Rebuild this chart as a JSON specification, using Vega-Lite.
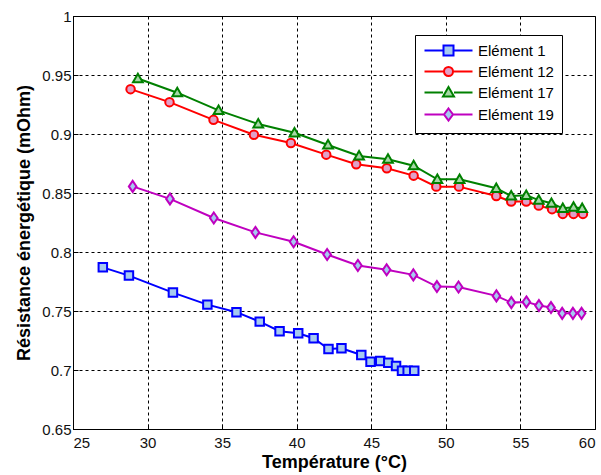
{
  "$schema": "https://vega.github.io/schema/vega-lite/v6.json",
  "width": 522,
  "height": 413,
  "autosize": {"type": "none"},
  "padding": {"left": 73, "top": 16, "right": 6, "bottom": 46},
  "background": "white",
  "config": {
    "view": {"stroke": "black", "strokeWidth": 1},
    "font": "Liberation Sans",
    "axis": {
      "domainColor": "black",
      "grid": true,
      "gridColor": "black",
      "gridDash": [3, 3],
      "gridOpacity": 1,
      "gridWidth": 1,
      "tickColor": "black",
      "tickSize": -5,
      "labelFont": "Liberation Sans",
      "labelFontSize": 15,
      "labelColor": "#111111",
      "titleFont": "Liberation Sans",
      "titleFontSize": 18,
      "titleFontWeight": "bold",
      "titleColor": "black"
    },
    "legend": {
      "orient": "none",
      "legendX": 342,
      "legendY": 19,
      "title": null,
      "fillColor": "white",
      "strokeColor": "black",
      "padding": 8,
      "symbolSize": 100,
      "symbolStrokeWidth": 2,
      "symbolOpacity": 1,
      "labelOffset": 40,
      "labelFont": "Liberation Sans",
      "labelFontSize": 15,
      "labelColor": "black",
      "rowPadding": 3
    }
  },
  "data": {
    "values": [
      {"s": "Elément 1", "t": 27.0, "r": 0.787},
      {"s": "Elément 1", "t": 28.75, "r": 0.780},
      {"s": "Elément 1", "t": 31.7, "r": 0.7656},
      {"s": "Elément 1", "t": 34.01, "r": 0.7554},
      {"s": "Elément 1", "t": 35.96, "r": 0.749},
      {"s": "Elément 1", "t": 37.52, "r": 0.741},
      {"s": "Elément 1", "t": 38.85, "r": 0.7329},
      {"s": "Elément 1", "t": 40.1, "r": 0.7312},
      {"s": "Elément 1", "t": 41.13, "r": 0.7269},
      {"s": "Elément 1", "t": 42.13, "r": 0.7178},
      {"s": "Elément 1", "t": 43.0, "r": 0.7184},
      {"s": "Elément 1", "t": 44.33, "r": 0.7127},
      {"s": "Elément 1", "t": 44.95, "r": 0.707},
      {"s": "Elément 1", "t": 45.6, "r": 0.7076},
      {"s": "Elément 1", "t": 46.14, "r": 0.7062},
      {"s": "Elément 1", "t": 46.66, "r": 0.7034},
      {"s": "Elément 1", "t": 47.06, "r": 0.6994},
      {"s": "Elément 1", "t": 47.44, "r": 0.6994},
      {"s": "Elément 1", "t": 47.88, "r": 0.6994},
      {"s": "Elément 12", "t": 28.86, "r": 0.938},
      {"s": "Elément 12", "t": 31.47, "r": 0.927},
      {"s": "Elément 12", "t": 34.42, "r": 0.912},
      {"s": "Elément 12", "t": 37.13, "r": 0.8994},
      {"s": "Elément 12", "t": 39.61, "r": 0.8924},
      {"s": "Elément 12", "t": 41.98, "r": 0.8825},
      {"s": "Elément 12", "t": 43.99, "r": 0.8743},
      {"s": "Elément 12", "t": 46.04, "r": 0.871},
      {"s": "Elément 12", "t": 47.84, "r": 0.8647},
      {"s": "Elément 12", "t": 49.36, "r": 0.8554},
      {"s": "Elément 12", "t": 50.88, "r": 0.8554},
      {"s": "Elément 12", "t": 53.38, "r": 0.8475},
      {"s": "Elément 12", "t": 54.38, "r": 0.8427},
      {"s": "Elément 12", "t": 55.39, "r": 0.8427},
      {"s": "Elément 12", "t": 56.23, "r": 0.8393},
      {"s": "Elément 12", "t": 57.12, "r": 0.8363},
      {"s": "Elément 12", "t": 57.84, "r": 0.8323},
      {"s": "Elément 12", "t": 58.56, "r": 0.8323},
      {"s": "Elément 12", "t": 59.19, "r": 0.8323},
      {"s": "Elément 17", "t": 29.35, "r": 0.947},
      {"s": "Elément 17", "t": 31.99, "r": 0.935},
      {"s": "Elément 17", "t": 34.76, "r": 0.920},
      {"s": "Elément 17", "t": 37.42, "r": 0.9085},
      {"s": "Elément 17", "t": 39.85, "r": 0.901},
      {"s": "Elément 17", "t": 42.1, "r": 0.8907},
      {"s": "Elément 17", "t": 44.18, "r": 0.8814},
      {"s": "Elément 17", "t": 46.12, "r": 0.8786},
      {"s": "Elément 17", "t": 47.84, "r": 0.8731},
      {"s": "Elément 17", "t": 49.43, "r": 0.8616},
      {"s": "Elément 17", "t": 50.92, "r": 0.8616},
      {"s": "Elément 17", "t": 53.38, "r": 0.854},
      {"s": "Elément 17", "t": 54.38, "r": 0.8475},
      {"s": "Elément 17", "t": 55.39, "r": 0.848},
      {"s": "Elément 17", "t": 56.23, "r": 0.844},
      {"s": "Elément 17", "t": 57.08, "r": 0.8413},
      {"s": "Elément 17", "t": 57.84, "r": 0.837},
      {"s": "Elément 17", "t": 58.56, "r": 0.838},
      {"s": "Elément 17", "t": 59.14, "r": 0.837},
      {"s": "Elément 19", "t": 29.0, "r": 0.8556},
      {"s": "Elément 19", "t": 31.5, "r": 0.845},
      {"s": "Elément 19", "t": 34.44, "r": 0.8288},
      {"s": "Elément 19", "t": 37.23, "r": 0.8166},
      {"s": "Elément 19", "t": 39.79, "r": 0.8087},
      {"s": "Elément 19", "t": 42.04, "r": 0.7979},
      {"s": "Elément 19", "t": 44.1, "r": 0.7886},
      {"s": "Elément 19", "t": 46.03, "r": 0.7849},
      {"s": "Elément 19", "t": 47.82, "r": 0.7806},
      {"s": "Elément 19", "t": 49.4, "r": 0.7707},
      {"s": "Elément 19", "t": 50.85, "r": 0.7703},
      {"s": "Elément 19", "t": 53.39, "r": 0.7628},
      {"s": "Elément 19", "t": 54.39, "r": 0.7571},
      {"s": "Elément 19", "t": 55.4, "r": 0.7577},
      {"s": "Elément 19", "t": 56.24, "r": 0.7546},
      {"s": "Elément 19", "t": 57.05, "r": 0.7529},
      {"s": "Elément 19", "t": 57.8, "r": 0.748},
      {"s": "Elément 19", "t": 58.52, "r": 0.748},
      {"s": "Elément 19", "t": 59.1, "r": 0.748}
    ]
  },
  "encoding": {
    "x": {
      "field": "t", "type": "quantitative",
      "title": "Température (°C)",
      "scale": {"domain": [25, 60], "nice": false, "zero": false},
      "axis": {"values": [25, 30, 35, 40, 45, 50, 55, 60], "labelPadding": 11, "titlePadding": 3}
    },
    "y": {
      "field": "r", "type": "quantitative",
      "title": "Résistance énergétique (mOhm)",
      "scale": {"domain": [0.65, 1], "nice": false, "zero": false},
      "axis": {"values": [0.65, 0.7, 0.75, 0.8, 0.85, 0.9, 0.95, 1], "format": ".2~f", "labelPadding": 7, "titlePadding": 8}
    },
    "stroke": {
      "field": "s", "type": "nominal",
      "scale": {"domain": ["Elément 1", "Elément 12", "Elément 17", "Elément 19"], "range": ["#0000FF", "#FF0000", "#008000", "#BF00BF"]}
    }
  },
  "layer": [
    {
      "mark": {"type": "line", "strokeWidth": 2}
    },
    {
      "transform": [{"filter": "datum.s === 'Elément 1'"}],
      "mark": {"type": "point", "shape": "square", "strokeWidth": 2, "opacity": 1, "fillOpacity": 1, "size": 72},
      "encoding": {
        "fill": {
          "field": "s", "type": "nominal",
          "scale": {"domain": ["Elément 1", "Elément 12", "Elément 17", "Elément 19"], "range": ["#A6CAF0", "#E0A0C8", "#A8D8A8", "#A6CAF0"]}
        }
      }
    },
    {
      "transform": [{"filter": "datum.s === 'Elément 12'"}],
      "mark": {"type": "point", "shape": "circle", "strokeWidth": 2, "opacity": 1, "fillOpacity": 1, "size": 72},
      "encoding": {"fill": {"field": "s", "type": "nominal"}}
    },
    {
      "transform": [{"filter": "datum.s === 'Elément 17'"}],
      "mark": {"type": "point", "shape": "M0,-1.15 L1.15,0.85 L-1.15,0.85 Z", "strokeWidth": 2, "opacity": 1, "fillOpacity": 1, "size": 72},
      "encoding": {"fill": {"field": "s", "type": "nominal"}}
    },
    {
      "transform": [{"filter": "datum.s === 'Elément 19'"}],
      "mark": {"type": "point", "shape": "M0,-1.3 L0.9,0 L0,1.3 L-0.9,0 Z", "strokeWidth": 2, "opacity": 1, "fillOpacity": 1, "size": 72},
      "encoding": {"fill": {"field": "s", "type": "nominal"}}
    },
    {
      "transform": [{"filter": "datum.t < 0"}],
      "mark": {"type": "point", "strokeWidth": 2, "opacity": 1, "fillOpacity": 1, "size": 100},
      "encoding": {
        "fill": {"field": "s", "type": "nominal"},
        "shape": {
          "field": "s", "type": "nominal",
          "scale": {"domain": ["Elément 1", "Elément 12", "Elément 17", "Elément 19"], "range": [
            "M-1.2,0 H2.6 M4.6,0 H8.4 M2.6,-1 H4.6 V1 H2.6 Z",
            "M-1.2,0 H2.7 M4.5,0 H8.4 M4.5,0 A0.9,0.9 0 1,1 2.7,0 A0.9,0.9 0 1,1 4.5,0 Z",
            "M-1.2,0 H2.5 M4.7,0 H8.4 M3.6,-1.1 L4.7,0.8 L2.5,0.8 Z",
            "M-1.2,0 H2.7 M4.5,0 H8.4 M3.6,-1.2 L4.5,0 L3.6,1.2 L2.7,0 Z"
          ]}
        }
      }
    }
  ]
}
